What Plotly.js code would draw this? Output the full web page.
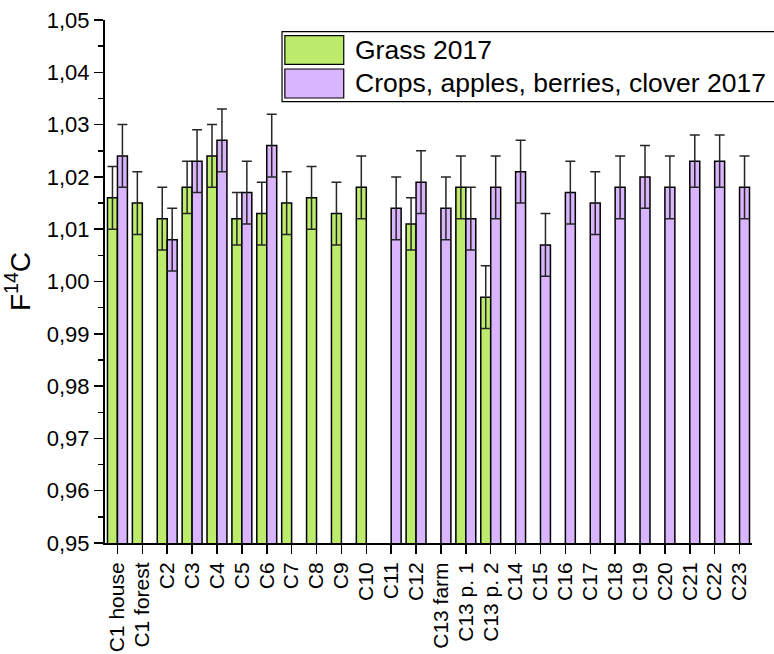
<!DOCTYPE html>
<html>
<head>
<meta charset="utf-8">
<script src="https://cdn.plot.ly/plotly-3.0.1.min.js"></script>
<style>html,body{margin:0;padding:0;background:#fff;}#chart{width:774px;height:654px;}</style>
</head>
<body>
<div id="chart"></div>
<script>
const categories = ['C1 house','C1 forest','C2','C3','C4','C5','C6','C7','C8','C9','C10','C11','C12','C13 farm','C13 p. 1','C13 p. 2','C14','C15','C16','C17','C18','C19','C20','C21','C22','C23'];
const grassValues = [1.016,1.015,1.012,1.018,1.024,1.012,1.013,1.015,1.016,1.013,1.018,null,1.011,null,1.018,0.997,null,null,null,null,null,null,null,null,null,null];
const grassErrors = [0.006,0.006,0.006,0.005,0.006,0.005,0.006,0.006,0.006,0.006,0.006,null,0.005,null,0.006,0.006,null,null,null,null,null,null,null,null,null,null];
const cropValues = [1.024,null,1.008,1.023,1.027,1.017,1.026,null,null,null,null,1.014,1.019,1.014,1.012,1.018,1.021,1.007,1.017,1.015,1.018,1.020,1.018,1.023,1.023,1.018];
const cropErrors = [0.006,null,0.006,0.006,0.006,0.006,0.006,null,null,null,null,0.006,0.006,0.006,0.006,0.006,0.006,0.006,0.006,0.006,0.006,0.006,0.006,0.005,0.005,0.006];
const seriesNames = ['Grass 2017','Crops, apples, berries, clover 2017'];
const yTickVals = [0.95,0.96,0.97,0.98,0.99,1.00,1.01,1.02,1.03,1.04,1.05];

const GREEN = '#bdeb6c';
const PURPLE = '#d9b4ff';
const FONT = 'Arial, "Liberation Sans", sans-serif';

const errStyle = {type:'data', visible:true, color:'#262626', thickness:1.5, width:5};

const traces = [
  {type:'bar', name:seriesNames[0], x:categories, y:grassValues,
   error_y:Object.assign({array:grassErrors}, errStyle),
   marker:{color:GREEN, line:{color:'#000', width:1.5}}},
  {type:'bar', name:seriesNames[1], x:categories, y:cropValues,
   error_y:Object.assign({array:cropErrors}, errStyle),
   marker:{color:PURPLE, line:{color:'#000', width:1.5}}}
];

// custom legend (paper coords)
const L = {x0:0.2736, x1:1.04, y0:0.8438, y1:0.9776};
const shapes = [
  {type:'rect', xref:'paper', yref:'paper', x0:L.x0, x1:L.x1, y0:L.y0, y1:L.y1, line:{color:'#000', width:1.2}, fillcolor:'#fff', layer:'above'},
  {type:'rect', xref:'paper', yref:'paper', x0:0.278, x1:0.369, y0:0.9153, y1:0.9700, line:{color:'#000', width:1.2}, fillcolor:GREEN, layer:'above'},
  {type:'rect', xref:'paper', yref:'paper', x0:0.278, x1:0.369, y0:0.8509, y1:0.9063, line:{color:'#000', width:1.2}, fillcolor:PURPLE, layer:'above'}
];
const annotations = [
  {xref:'paper', yref:'paper', x:0.3833, y:0.9426, xanchor:'left', yanchor:'middle', text:seriesNames[0], showarrow:false, font:{family:FONT, size:26.5, color:'#000'}},
  {xref:'paper', yref:'paper', x:0.3833, y:0.8786, xanchor:'left', yanchor:'middle', text:seriesNames[1], showarrow:false, font:{family:FONT, size:26.5, color:'#000'}}
];

const layout = {
  width:774, height:654,
  margin:{l:105, r:22, t:20, b:111},
  paper_bgcolor:'#fff', plot_bgcolor:'#fff',
  separators:', ',
  barmode:'group', bargap:0.2, bargroupgap:0,
  showlegend:false,
  font:{family:FONT, color:'#000'},
  xaxis:{
    type:'category', range:[-0.5, 25.5],
    tickmode:'array', tickvals:categories, ticktext:categories,
    showline:true, linecolor:'#000', linewidth:2,
    ticks:'outside', ticklen:9, tickwidth:1.5, tickcolor:'#000',
    tickangle:-90, tickfont:{family:FONT, size:21, color:'#000'},
    showgrid:false, zeroline:false, fixedrange:true
  },
  yaxis:{
    range:[0.95, 1.05],
    tickvals:yTickVals, tickformat:'.2f',
    showline:true, linecolor:'#000', linewidth:2,
    ticks:'outside', ticklen:9, tickwidth:1.5, tickcolor:'#000',
    tickfont:{family:FONT, size:22, color:'#000'},
    minor:{dtick:0.005, tick0:0.95, ticks:'outside', ticklen:5, tickwidth:1.5, tickcolor:'#000', showgrid:false},
    showgrid:false, zeroline:false,
    title:{text:'F<sup>14</sup>C', font:{family:FONT, size:28, color:'#000'}, standoff:8}
  },
  shapes:shapes,
  annotations:annotations
};

Plotly.newPlot('chart', traces, layout, {displayModeBar:false, staticPlot:true});
</script>
</body>
</html>
